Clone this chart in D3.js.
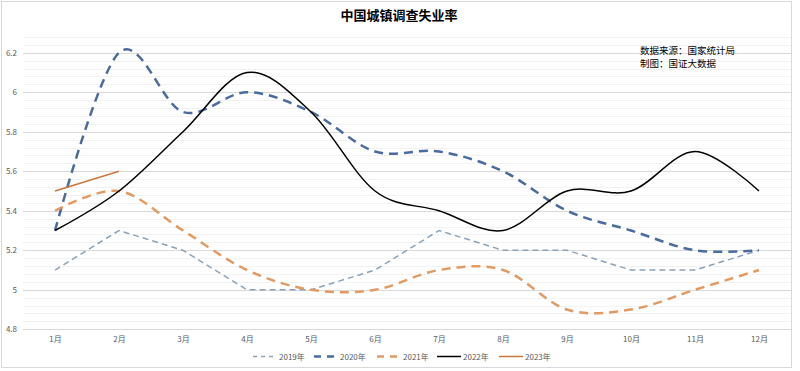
<!DOCTYPE html>
<html><head><meta charset="utf-8">
<script src="https://cdn.jsdelivr.net/npm/d3@7"></script>
<style>html,body{margin:0;padding:0;background:#fff;}svg{display:block;}</style>
</head><body>
<script>
const months = ["1月","2月","3月","4月","5月","6月","7月","8月","9月","10月","11月","12月"];
const s2019 = [5.1,5.3,5.2,5.0,5.0,5.1,5.3,5.2,5.2,5.1,5.1,5.2];
const s2020 = [5.3,6.2,5.9,6.0,5.9,5.7,5.7,5.6,5.4,5.3,5.2,5.2];
const s2021 = [5.4,5.5,5.3,5.1,5.0,5.0,5.1,5.1,4.9,4.9,5.0,5.1];
const s2022 = [5.3,5.5,5.8,6.1,5.9,5.5,5.4,5.3,5.5,5.5,5.7,5.5];
const s2023 = [5.5,5.6];
const seriesNames = ["2019年","2020年","2021年","2022年","2023年"];
const yTicks = [4.8,5,5.2,5.4,5.6,5.8,6,6.2];
const title = "中国城镇调查失业率";
const notes = ["数据来源：国家统计局","制图：国证大数据"];

const W = 800, H = 371;
const svg = d3.select("body").append("svg").attr("width", W).attr("height", H);
const font = "'Microsoft YaHei','Noto Sans CJK SC',sans-serif";

svg.append("rect").attr("x",1.5).attr("y",1.5).attr("width",790).attr("height",366)
  .attr("fill","#fff").attr("stroke","#d9d9d9");

const x = d3.scalePoint().domain(months).range([23, 791]).padding(0.5);
const y = d3.scaleLinear().domain([4.8, 6.28]).range([329.3, 36.9]);

// minor gridlines
const minor = d3.range(0, 38).map(i => +(4.8 + i*0.04).toFixed(2));
svg.append("g").selectAll("line").data(minor).join("line")
  .attr("x1",23).attr("x2",791)
  .attr("y1",d=>Math.round(y(d))+0.5).attr("y2",d=>Math.round(y(d))+0.5)
  .attr("stroke","#f2f2f2").attr("stroke-width",1);
// major gridlines
svg.append("g").selectAll("line").data(yTicks).join("line")
  .attr("x1",23).attr("x2",791)
  .attr("y1",d=>Math.round(y(d))+0.5).attr("y2",d=>Math.round(y(d))+0.5)
  .attr("stroke","#d9d9d9").attr("stroke-width",1);

// y labels
const yAxis = d3.axisLeft(y).tickValues(yTicks).tickSize(0).tickPadding(0).tickFormat(d=>d3.format("")(d));
const gy = svg.append("g").attr("transform","translate(17,0)").call(yAxis);
gy.select(".domain").remove();
gy.selectAll("text").attr("font-size",8).attr("font-family",font).attr("fill","#595959");

// x labels
const xAxis = d3.axisBottom(x).tickSize(0).tickPadding(0);
const gx = svg.append("g").attr("transform","translate(0,336)").call(xAxis);
gx.select(".domain").remove();
gx.selectAll("text").attr("font-size",8).attr("font-family",font).attr("fill","#595959");

const styles = [
  {data:s2019, color:"#8aa2b8", w:1.5, dash:"6,4", smooth:false},
  {data:s2020, color:"#4a6b9e", w:2.5, dash:"9,6", smooth:true},
  {data:s2021, color:"#e29a63", w:2.5, dash:"9,6", smooth:true},
  {data:s2022, color:"#000000", w:1.5, dash:null, smooth:true},
  {data:s2023, color:"#c8773f", w:1.5, dash:null, smooth:false}
];
const lineSmooth = d3.line().x((d,i)=>x(months[i])).y(d=>y(d)).curve(d3.curveCatmullRom.alpha(0));
const lineStraight = d3.line().x((d,i)=>x(months[i])).y(d=>y(d)).curve(d3.curveLinear);
styles.forEach(s=>{
  svg.append("path").datum(s.data).attr("d", s.smooth ? lineSmooth : lineStraight)
    .attr("fill","none").attr("stroke",s.color).attr("stroke-width",s.w)
    .attr("stroke-dasharray",s.dash).attr("stroke-linecap","butt").attr("stroke-linejoin","round");
});

// title
svg.append("text").attr("x",399).attr("y",20).attr("text-anchor","middle")
  .attr("font-size",13).attr("font-weight","bold").attr("font-family",font).attr("fill","#000")
  .text(title);
// notes
notes.forEach((t,i)=>{
  svg.append("text").attr("x",640).attr("y",54+i*13).attr("font-size",9.5)
    .attr("font-family",font).attr("fill","#000").text(t);
});

// legend
const legX = [253,314,377,437,499];
const lg = svg.append("g");
styles.forEach((s,i)=>{
  lg.append("line").attr("x1",legX[i]).attr("x2",legX[i]+24).attr("y1",356.5).attr("y2",356.5)
    .attr("stroke",s.color).attr("stroke-width",s.w).attr("stroke-dasharray",s.dash ? (s.w>2?"7,6":"4,4") : null);
  lg.append("text").attr("x",legX[i]+26).attr("y",359.5).attr("font-size",8)
    .attr("font-family",font).attr("fill","#595959").text(seriesNames[i]);
});
</script>
</body></html>
